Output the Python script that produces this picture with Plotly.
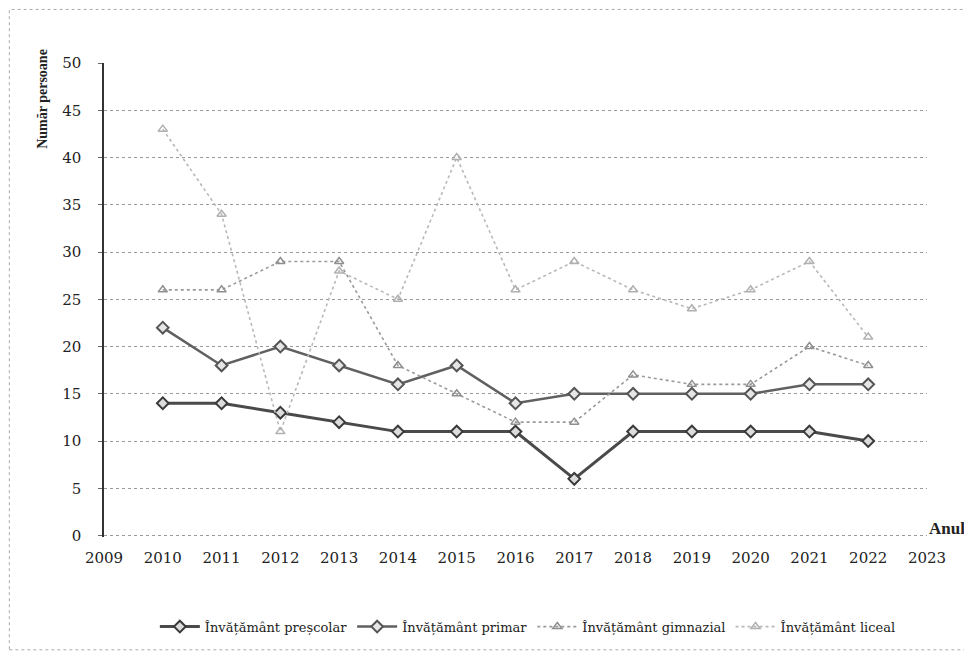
import plotly.graph_objects as go

# years and number of persons per level of education
ani = [2010, 2011, 2012, 2013, 2014, 2015, 2016, 2017, 2018, 2019, 2020, 2021, 2022]
prescolar = [14, 14, 13, 12, 11, 11, 11, 6, 11, 11, 11, 11, 10]
primar = [22, 18, 20, 18, 16, 18, 14, 15, 15, 15, 15, 16, 16]
gimnazial = [26, 26, 29, 29, 18, 15, 12, 12, 17, 16, 16, 20, 18]
liceal = [43, 34, 11, 28, 25, 40, 26, 29, 26, 24, 26, 29, 21]

font = "DejaVu Serif"
font_titlu = "Liberation Serif"

fig = go.Figure()
fig.add_trace(go.Scatter(x=ani, y=prescolar, name="Învățământ preșcolar", mode="lines+markers",
                         line=dict(color="#4a4a4a", width=3),
                         marker=dict(symbol="diamond", size=9, color="#dcdcdc", line=dict(color="#3a3a3a", width=2))))
fig.add_trace(go.Scatter(x=ani, y=primar, name="Învățământ primar", mode="lines+markers",
                         line=dict(color="#606060", width=2.5),
                         marker=dict(symbol="diamond", size=9, color="#e6e6e6", line=dict(color="#555555", width=2))))
fig.add_trace(go.Scatter(x=ani, y=gimnazial, name="Învățământ gimnazial", mode="lines+markers",
                         line=dict(color="#9a9a9a", width=1.6, dash="dot"),
                         marker=dict(symbol="triangle-up-open", size=8, color="#8f8f8f", line=dict(width=1.5))))
fig.add_trace(go.Scatter(x=ani, y=liceal, name="Învățământ liceal", mode="lines+markers",
                         line=dict(color="#b8b8b8", width=1.6, dash="dot"),
                         marker=dict(symbol="triangle-up-open", size=8, color="#b0b0b0", line=dict(width=1.5))))

# the page body adds an 8px offset, so the figure is a bit smaller than the window
fig.update_layout(
    width=964, height=644,
    margin=dict(l=96, r=45, t=55, b=114),
    paper_bgcolor="white", plot_bgcolor="white",
    font=dict(family=font, size=15, color="#222"),
    showlegend=True,
    legend=dict(orientation="h", x=0.515, xanchor="center", y=-0.155, yanchor="top",
                font=dict(size=13, color="#222"), itemwidth=40, tracegroupgap=0),
    xaxis=dict(range=[2009, 2023], dtick=1, tick0=2009, showgrid=False, zeroline=False,
               showline=False, ticks="", tickfont=dict(size=15), ticklabelstandoff=10),
    yaxis=dict(range=[-0.15, 50], tickvals=list(range(0, 51, 5)), showgrid=True, gridcolor="#9a9a9a",
               griddash="dot", gridwidth=1, zeroline=False, showline=True, linecolor="#333", linewidth=1.5,
               ticks="outside", ticklen=4, tickcolor="#666", tickfont=dict(size=15),
               ticklabelstandoff=14),
    annotations=[
        dict(text="<b>Număr persoane</b>", textangle=-90, xref="paper", yref="paper",
             x=-0.075, y=0.925, xanchor="center", yanchor="middle", showarrow=False,
             font=dict(family=font_titlu, size=14)),
        dict(text="<b>Anul</b>", xref="paper", yref="paper", x=1.024, y=0.017,
             xanchor="center", yanchor="middle", showarrow=False,
             font=dict(family=font_titlu, size=17)),
    ],
    shapes=[
        dict(type="rect", xref="paper", yref="paper", x0=-0.115, x1=1.052, y0=-0.238, y1=1.113,
             line=dict(color="#aaaaaa", width=1, dash="dot")),
    ],
)

fig.write_html("out.html")
